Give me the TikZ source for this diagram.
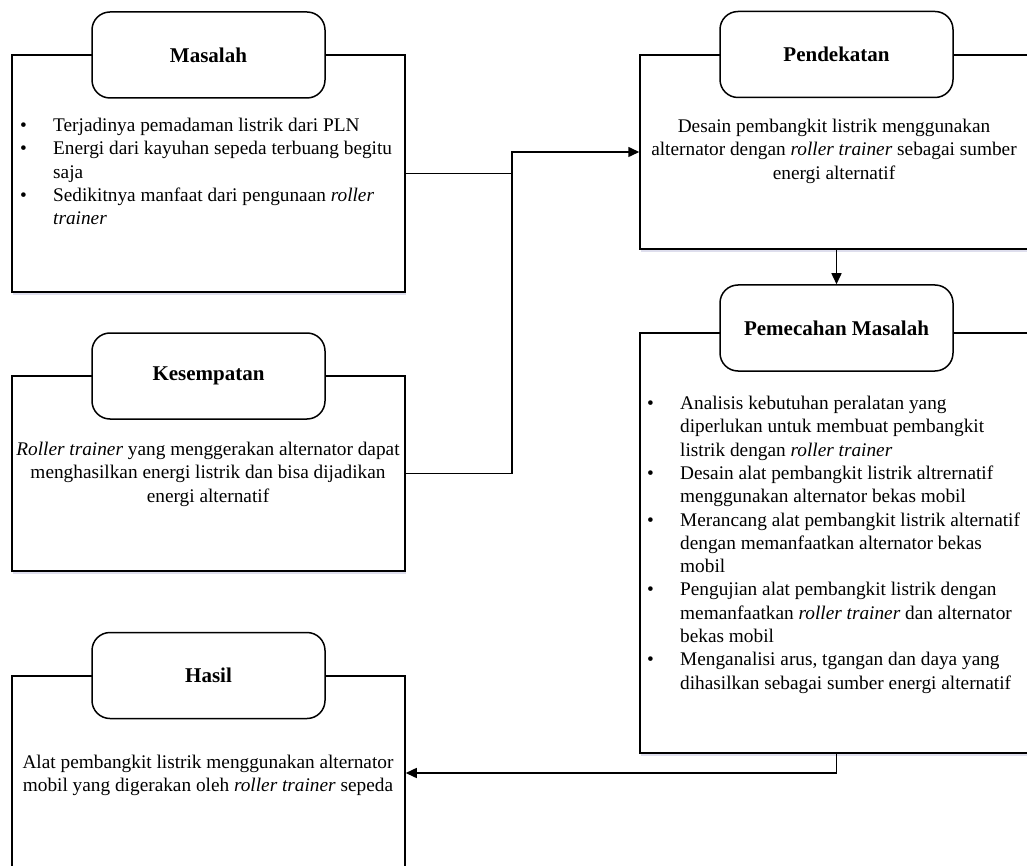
\documentclass[tikz,border=0pt]{standalone}
\usepackage{fontspec}
\setmainfont{Liberation Serif}
\usetikzlibrary{arrows.meta, positioning, shadows}

\newcommand{\dotitem}{\makebox[33pt][l]{\textbullet}}
\newcommand{\contline}{\hspace*{33pt}}

\begin{document}
\begin{tikzpicture}[x=1pt, y=-1pt,
  panel/.style={draw=black, line width=1.5pt, fill=white, minimum width=393pt, drop shadow={shadow xshift=1pt, shadow yshift=-3pt, fill=blue!30!gray, opacity=0.2}},
  header/.style={draw=black, line width=1.5pt, fill=white, rounded corners=18pt, minimum width=233pt, minimum height=86pt, font=\fontsize{21}{25}\selectfont\bfseries},
  body/.style={inner sep=0pt, font=\fontsize{19.3}{23.3}\selectfont},
  link/.style={line width=1.5pt},
  flow/.style={link, -{Triangle[length=11pt, width=10pt]}}
]
\useasboundingbox (0,0) rectangle (1027,866);

% Left column
\node[panel, minimum height=237pt] (masalah) at (208.5,173.5) {};
\node[header] (masalahHead) at (208.5,55) {Masalah};
\node[body, align=left, anchor=north west] (masalahText) at (20,118) {%
\dotitem Terjadinya pemadaman listrik dari PLN\\
\dotitem Energi dari kayuhan sepeda terbuang begitu\\
\contline saja\\
\dotitem Sedikitnya manfaat dari pengunaan \textit{roller}\\
\contline \textit{trainer}};

\node[panel, minimum height=195pt] (kesempatan) at (208.5,473.5) {};
\node[header] (kesempatanHead) at (208.5,376) {Kesempatan};
\node[body, align=center, anchor=north] (kesempatanText) at (208,442) {%
\textit{Roller trainer} yang menggerakan alternator dapat\\
menghasilkan energi listrik dan bisa dijadikan\\
energi alternatif};

\node[panel, minimum height=194pt] (hasil) at (208.5,773) {};
\node[header] (hasilHead) at (208.5,675.5) {Hasil};
\node[body, align=center, anchor=north] (hasilText) at (208,755) {%
Alat pembangkit listrik menggunakan alternator\\
mobil yang digerakan oleh \textit{roller trainer} sepeda};

% Right column
\node[panel, minimum height=194pt] (pendekatan) at (836.5,152) {};
\node[header] (pendekatanHead) at (836.5,54.5) {Pendekatan};
\node[body, align=center, anchor=north] (pendekatanText) at (834,119) {%
Desain pembangkit listrik menggunakan\\
alternator dengan \textit{roller trainer} sebagai sumber\\
energi alternatif};

\node[panel, minimum height=420pt] (pemecahan) at (836.5,543) {};
\node[header] (pemecahanHead) at (836.5,328) {Pemecahan Masalah};
\node[body, align=left, anchor=north west] (pemecahanText) at (647,396) {%
\dotitem Analisis kebutuhan peralatan yang\\
\contline diperlukan untuk membuat pembangkit\\
\contline listrik dengan \textit{roller trainer}\\
\dotitem Desain alat pembangkit listrik altrernatif\\
\contline menggunakan alternator bekas mobil\\
\dotitem Merancang alat pembangkit listrik alternatif\\
\contline dengan memanfaatkan alternator bekas\\
\contline mobil\\
\dotitem Pengujian alat pembangkit listrik dengan\\
\contline memanfaatkan \textit{roller trainer} dan alternator\\
\contline bekas mobil\\
\dotitem Menganalisi arus, tgangan dan daya yang\\
\contline dihasilkan sebagai sumber energi alternatif};

% Connectors
\coordinate (join) at (512,152);
\draw[link] (masalah.east) -- (masalah.east -| join);
\draw[flow] (kesempatan.east) -| (join) -- (pendekatan.west);
\draw[flow] (pendekatan.south) -- (pemecahanHead.north);
\draw[flow] (pemecahan.south) |- (hasil.east);

\end{tikzpicture}
\end{document}
